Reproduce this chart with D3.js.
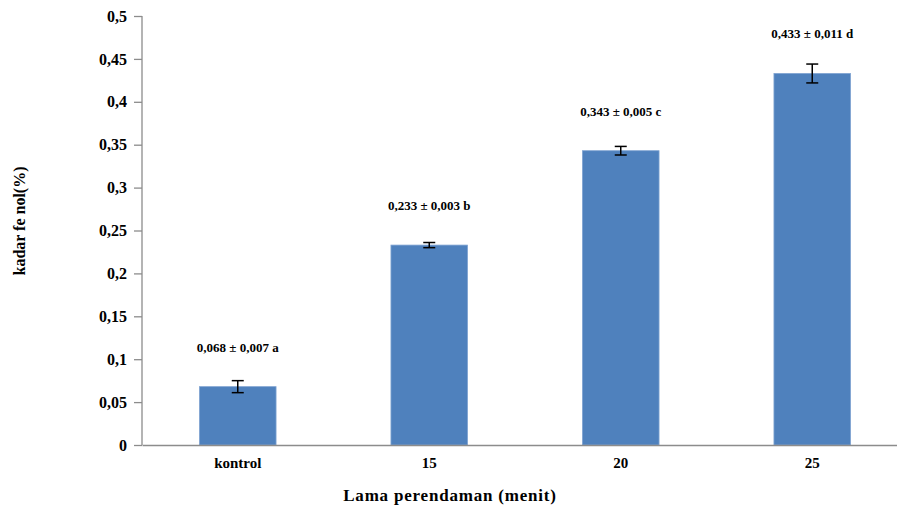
<!DOCTYPE html>
<html>
<head>
<meta charset="utf-8">
<script src="https://cdn.jsdelivr.net/npm/d3@7"></script>
<style>
  html, body { margin: 0; padding: 0; background: #fff; }
  svg { display: block; }
  text { font-family: "Liberation Serif", "Times New Roman", serif; font-weight: bold; fill: #000; }
</style>
</head>
<body>
<svg id="chart" width="897" height="509"></svg>
<script>
// Phenol content by soaking time
const categories = ["kontrol", "15", "20", "25"];
const means = [0.068, 0.233, 0.343, 0.433];
const errors = [0.007, 0.003, 0.005, 0.011];
const notes = ["a", "b", "c", "d"];
const yTicks = [0, 0.05, 0.1, 0.15, 0.2, 0.25, 0.3, 0.35, 0.4, 0.45, 0.5];

const svg = d3.select("#chart");
const plotLeft = 142, plotRight = 908, plotTop = 16, plotBottom = 445;

const xCat = d3.scaleBand().domain(categories).range([plotLeft, plotRight]);
const barWidth = xCat.bandwidth() * 0.4;
const y = d3.scaleLinear().domain([0, 0.5]).range([plotBottom, plotTop]);
const cx = c => xCat(c) + xCat.bandwidth() / 2;

const comma = d => d3.format("")(d).replace(".", ",");
const fmt3 = d => d3.format(".3f")(d).replace(".", ",");

// bars
svg.append("g").selectAll("rect")
  .data(means)
  .join("rect")
  .attr("x", (d, i) => cx(categories[i]) - barWidth / 2)
  .attr("width", barWidth)
  .attr("y", d => y(d))
  .attr("height", d => plotBottom - y(d))
  .attr("fill", "#4F81BD")
  .attr("stroke", "#7fa3d2")
  .attr("stroke-width", 0.8);

// error bars
const eb = svg.append("g").attr("stroke", "#000").attr("stroke-width", 1.5);
means.forEach((m, i) => {
  const px = cx(categories[i]);
  const e = errors[i];
  eb.append("line").attr("x1", px).attr("x2", px).attr("y1", y(m + e)).attr("y2", y(m - e));
  eb.append("line").attr("x1", px - 6).attr("x2", px + 6).attr("y1", y(m + e)).attr("y2", y(m + e));
  eb.append("line").attr("x1", px - 6).attr("x2", px + 6).attr("y1", y(m - e)).attr("y2", y(m - e));
});

// value labels
svg.append("g").selectAll("text")
  .data(means)
  .join("text")
  .attr("x", (d, i) => cx(categories[i]))
  .attr("y", d => y(d) - 35)
  .attr("text-anchor", "middle")
  .attr("font-size", 13)
  .text((d, i) => `${fmt3(d)} ± ${fmt3(errors[i])} ${notes[i]}`);

// y axis
const yAxis = svg.append("g")
  .attr("transform", `translate(${plotLeft},0)`)
  .call(d3.axisLeft(y).tickValues(yTicks).tickFormat(comma).tickSize(8).tickPadding(7));
yAxis.selectAll("path, line").attr("stroke", "#8c8c8c").attr("stroke-width", 1.3);
yAxis.select(".domain").attr("d", `M0,${plotTop}V${plotBottom}`);
yAxis.selectAll("text").attr("font-size", 16).attr("font-family", "Liberation Serif").attr("font-weight", "bold").attr("fill", "#000");

// x axis
const xAxis = svg.append("g")
  .attr("transform", `translate(0,${plotBottom})`)
  .call(d3.axisBottom(xCat).tickSize(0).tickPadding(12));
xAxis.select(".domain").attr("stroke", "#8c8c8c").attr("stroke-width", 1.3);
xAxis.selectAll("text").attr("font-size", 15).attr("font-family", "Liberation Serif").attr("font-weight", "bold").attr("fill", "#000");

// axis titles
svg.append("text")
  .attr("x", 450).attr("y", 501)
  .attr("text-anchor", "middle")
  .attr("font-size", 17)
  .attr("letter-spacing", 0.8)
  .text("Lama perendaman (menit)");

svg.append("text")
  .attr("transform", "translate(25,221) rotate(-90)")
  .attr("text-anchor", "middle")
  .attr("font-size", 16)
  .text("kadar fe nol(%)");
</script>
</body>
</html>
